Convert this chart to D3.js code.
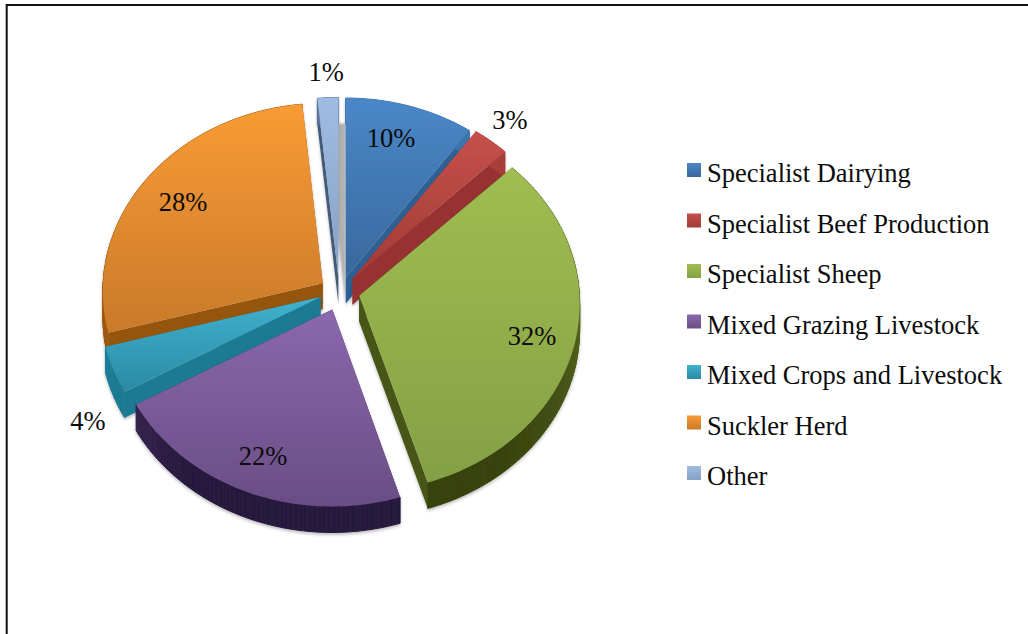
<!DOCTYPE html>
<html lang="en">
<head>
<meta charset="UTF-8">
<title>Farm types pie</title>
<style>
    body { margin: 0; background: #fff; overflow: hidden; }
    svg { display: block; }
    text { font-family: "Liberation Serif", serif; fill: #0c0c0c; }
</style>
</head>
<body>
<svg id="chart" width="1028" height="634"></svg>
<script src="https://cdnjs.cloudflare.com/ajax/libs/d3/7.9.0/d3.min.js"></script>
<script>
// data
const categories = ["Specialist Dairying", "Specialist Beef Production", "Specialist Sheep",
    "Mixed Grazing Livestock", "Mixed Crops and Livestock", "Suckler Herd", "Other"];
const percentLabels = ["10%", "3%", "32%", "22%", "4%", "28%", "1%"];
// slice sizes, the 3D view stretches them a little from the printed labels
const shares = [9.9, 2.8, 32.5, 21.6, 4, 27.6, 1.6];

// slice styling, same order as categories
const explodeX = [0.0217, 0.0525, 0.0825, -0.0394, -0.0927, -0.083, -0.012];
const explodeY = [-0.0665, -0.0604, 0.03, 0.1027, 0.0375, -0.036, -0.07];
const topLight = ["#4a87c8", "#c6504a", "#a0bd52", "#8a68ad", "#40b2cf", "#f99b34", "#a0bce2"];
const topDark = ["#39689c", "#a03b36", "#84a044", "#6a4d85", "#2b8aa4", "#c97a2b", "#86a0c4"];
const wallLight = ["#3a74ae", "#a83f3a", "#56691f", "#54396f", "#22869f", "#a05c12", "#5a7396"];
const wallDark = ["#264f7c", "#872a2a", "#39430f", "#281a3e", "#1b7188", "#8e500e", "#34465f"];
const labelAngle = [15.5, 39.9, 106, 201.6, 238.4, 303.5, 356.7];
const labelRadius = [0.871, 1.225, 0.924, 0.986, 1.382, 0.881, 1.206];
const paintOrder = [6, 0, 1, 5, 4, 2, 3];

const cx = 341, cy = 290, rx = 220, ry = 188, depth = 26, persp = 0.04;
const labelRx = 215, labelRy = 181;

const x = d3.scaleLinear().domain([-1, 1]).range([cx - rx, cx + rx]);
const y = d3.scaleLinear().domain([-1, 1]).range([cy - ry, cy + ry]);

const svg = d3.select("#chart");
const defs = svg.append("defs");

// soft shadow under the slices
const blur = defs.append("filter").attr("id", "soft")
    .attr("x", "-10%").attr("y", "-10%").attr("width", "120%").attr("height", "120%");
blur.append("feDropShadow").attr("dx", 0).attr("dy", 2).attr("stdDeviation", 1.5)
    .attr("flood-color", "#000").attr("flood-opacity", 0.25);
defs.append("filter").attr("id", "blurOnly").append("feGaussianBlur").attr("stdDeviation", 0.8);

categories.forEach((c, i) => {
    const g = defs.append("linearGradient").attr("id", "top" + i)
        .attr("x1", 0).attr("y1", 0).attr("x2", 0).attr("y2", 1);
    g.append("stop").attr("offset", "0%").attr("stop-color", topLight[i]);
    g.append("stop").attr("offset", "100%").attr("stop-color", topDark[i]);
});

// frame runs off the right and bottom of the page
svg.append("rect").attr("x", 6.7).attr("y", 5).attr("width", 1100).attr("height", 700)
    .attr("fill", "none").attr("stroke", "#111").attr("stroke-width", 2);

const pie = d3.pie().sort(null).value(d => d);
const arcs = pie(shares);

const line = d3.line();

// slice point: a in radians clockwise from 12 o'clock, r in pie radii
function project(i, a, r) {
    const ux = explodeX[i] + r * Math.sin(a);
    const uy = explodeY[i] - r * Math.cos(a);
    const s = 1 + persp * uy;
    return [x(ux * s), y(uy * s)];
}

function arcPoints(i) {
    const a0 = arcs[i].startAngle, a1 = arcs[i].endAngle;
    const n = Math.max(4, Math.ceil((a1 - a0) / (Math.PI / 150)));
    return d3.range(n + 1).map(k => a0 + (a1 - a0) * k / n);
}

const drop = p => [p[0], p[1] + depth];

// grey cast shadow of the small slice, seen next to the blue one
const other = categories.length - 1;
svg.append("path")
    .attr("d", line([project(other, 0, 0)].concat(arcPoints(other).map(a => project(other, a, 1)))) + "Z")
    .attr("transform", "translate(7," + depth + ")")
    .attr("fill", "#b2b2b2")
    .attr("filter", "url(#blurOnly)");

paintOrder.forEach(i => {
    const g = svg.append("g").attr("filter", "url(#soft)");
    const tip = project(i, 0, 0);
    const angles = arcPoints(i);
    const rim = angles.map(a => project(i, a, 1));
    const shade = d3.scaleLinear().domain([0, 1]).range([wallLight[i], wallDark[i]]);

    // two straight walls
    [rim[0], rim[rim.length - 1]].forEach(p => {
        g.append("path")
            .attr("d", line([tip, p, drop(p), drop(tip)]) + "Z")
            .attr("fill", shade(0.55));
    });

    // curved wall, one facet per step
    d3.pairs(d3.zip(angles, rim)).forEach(([p, q]) => {
        const t = Math.min(1, Math.max(0, -Math.cos(p[0]) * 1.3));
        g.append("path")
            .attr("d", line([p[1], q[1], drop(q[1]), drop(p[1])]) + "Z")
            .attr("fill", shade(t))
            .attr("stroke", shade(t)).attr("stroke-width", 1);
    });

    // top face
    g.append("path")
        .attr("d", line([tip].concat(rim)) + "Z")
        .attr("fill", "url(#top" + i + ")");
});

// percentage labels
svg.append("g").selectAll("text")
    .data(percentLabels)
    .join("text")
    .attr("text-anchor", "middle")
    .attr("font-size", 26.5)
    .attr("x", (d, i) => x(labelRadius[i] * (labelRx / rx) * Math.sin(labelAngle[i] * Math.PI / 180)))
    .attr("y", (d, i) => y(-labelRadius[i] * (labelRy / ry) * Math.cos(labelAngle[i] * Math.PI / 180)) + 9)
    .text(d => d);

// legend
const row = d3.scalePoint().domain(categories).range([170, 473]);

const legend = svg.append("g").selectAll("g")
    .data(categories)
    .join("g")
    .attr("transform", d => "translate(687," + row(d) + ")");

legend.append("rect")
    .attr("y", -7).attr("width", 14).attr("height", 14)
    .attr("fill", (d, i) => "url(#top" + i + ")");

legend.append("text")
    .attr("x", 20).attr("y", 12)
    .attr("font-size", 26.5)
    .text(d => d);
</script>
</body>
</html>
